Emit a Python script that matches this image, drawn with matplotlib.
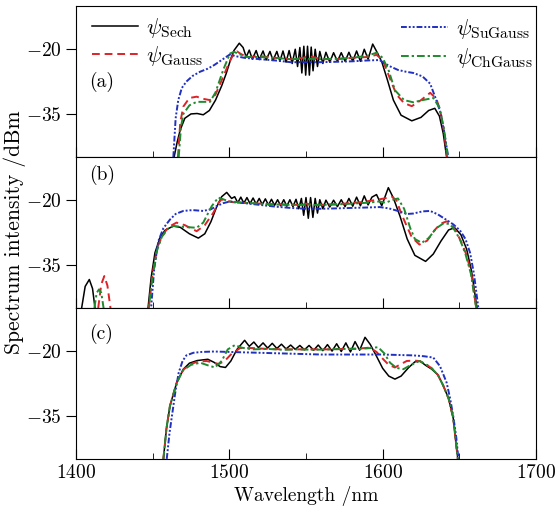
import numpy as np
import matplotlib.pyplot as plt
from matplotlib.ticker import MultipleLocator

plt.rcParams['font.family'] = 'serif'
plt.rcParams['font.serif'] = ['cmr10']
plt.rcParams['mathtext.fontset'] = 'cm'
plt.rcParams['axes.formatter.use_mathtext'] = True

# ---- panel (a) ----
a_sech_x = [1464, 1466, 1468, 1471, 1475, 1479, 1483, 1487, 1491, 1495, 1498, 1501, 1503, 1506.5, 1509, 1511,
            1513, 1515, 1517.5, 1519.5, 1522, 1524, 1526.5, 1528.5, 1531, 1533, 1535, 1537, 1539, 1541, 1543,
            1544.5, 1546, 1547.3, 1548.6, 1549.8, 1551, 1552.2, 1553.4, 1554.6, 1556, 1557.5, 1559, 1561, 1563,
            1565.5, 1568, 1570.5, 1573, 1575.5, 1578, 1580.5, 1583, 1585.5, 1588, 1590.5, 1593.5, 1596.5, 1599.5,
            1603, 1607, 1612, 1619, 1625, 1630, 1634, 1637, 1639.5, 1641.7]
a_sech_y = [-45, -41.5, -38.7, -36, -35, -34.9, -35.2, -34.2, -31.8, -28.5, -25.6, -22.2, -20.3, -18.6, -19.6, -21.8,
            -20.2, -22.3, -20.3, -22.4, -20.4, -22.5, -20.5, -22.6, -20.5, -22.8, -20.4, -23, -20.3, -23.3, -20,
            -24, -19.6, -25.5, -19.3, -26, -19.3, -26, -19.5, -25, -20, -24, -20.5, -23.3, -20.7,
            -23, -20.8, -22.8, -20.8, -22.8, -20.7, -22.8, -20.4, -22.8, -20, -22.3, -18.8, -20.8, -23,
            -27, -31.8, -35.3, -36.6, -35.8, -34.2, -33.7, -35.5, -39.5, -45]

a_gauss_x = [1466.5, 1468, 1470, 1474, 1478.7, 1483, 1487.4, 1491, 1496, 1500, 1503, 1505, 1508, 1512, 1520, 1530,
             1540, 1548, 1552, 1560, 1570, 1580, 1590, 1596, 1600, 1605, 1609, 1614, 1619, 1625, 1631, 1635,
             1637.4, 1640, 1642]
a_gauss_y = [-45, -37, -33.3, -31.3, -31, -31.5, -31.8, -30.5, -26.4, -23, -21, -20.5, -21.2, -21.8, -21.6, -22,
             -22.3, -22, -21.6, -22.3, -22.3, -22, -21.8, -21.3, -22.5, -27, -30.5, -32.5, -33.2, -31.8, -30.1, -31.5,
             -34, -39, -45]

a_su_x = [1463.5, 1465, 1466.7, 1469, 1472, 1476, 1481, 1486, 1490, 1495, 1500.4, 1504, 1510, 1520, 1530, 1540,
          1550, 1560, 1570, 1580, 1590, 1598, 1601, 1605, 1610, 1615, 1620, 1626, 1631, 1635, 1638, 1640, 1642.8]
a_su_y = [-45, -36, -31.8, -29, -27.5, -26.2, -25.2, -24.5, -23.7, -22.5, -21.2, -21.6, -22, -22.3, -22.6, -23,
          -23, -23, -22.9, -22.8, -22.6, -22.5, -23.2, -24, -24.8, -25.2, -25.5, -26.3, -28, -31.8, -35, -39, -45]

a_ch_x = [1467, 1468.5, 1470, 1474, 1478.7, 1483, 1487.4, 1491, 1496, 1500.4, 1503, 1507, 1512, 1520, 1530, 1540,
          1550, 1560, 1570, 1580, 1590, 1596, 1600, 1604, 1608, 1614, 1620, 1626, 1633, 1637, 1640, 1642.5]
a_ch_y = [-45, -38, -35, -33, -32.2, -32.2, -32.2, -30, -24.8, -21, -20.6, -21.2, -21.8, -21.8, -22, -22.3,
          -22.2, -22.3, -22.2, -22, -21.5, -20.8, -22, -25, -29.5, -31.8, -32.3, -31.8, -31.3, -33.5, -38.5, -45]

# ---- panel (b) ----
b_sech_x = [1403.7, 1406, 1408.7, 1410.8, 1412.4, 1414, 1445, 1447, 1449, 1451.5, 1454.8, 1458, 1463.5, 1468, 1474,
            1479.8, 1484, 1488, 1491.7, 1495, 1498.3, 1501.5,
            1503.5, 1505.5, 1507.5, 1509.5, 1511.5, 1513.5, 1515.5, 1517.5, 1519.5, 1521.5, 1523.5, 1525.5, 1527.5,
            1529.5, 1531.5, 1533.5, 1535.5, 1537.5, 1539.5, 1541.5, 1543.5, 1545.3, 1547, 1548.5, 1550, 1551.5,
            1553, 1554.5, 1556, 1557.5, 1559, 1561, 1563, 1565.5, 1568, 1570.5, 1573, 1575.5, 1578, 1580.5, 1583,
            1585.5, 1588, 1590.5, 1593, 1596, 1599.4, 1603.7, 1607, 1611.3, 1616, 1621, 1628, 1633, 1638, 1643,
            1647, 1651, 1654.8, 1658, 1661.5]
b_sech_y = [-45, -40, -38.4, -40.5, -45, -50, -50, -45, -38, -32.2, -28.7, -27, -26, -26.3, -27.8,
            -28.8, -27.8, -25, -21.6, -19.2, -18.2, -19.6,
            -19.2, -20.6, -19.3, -20.7, -19.4, -20.8, -19.5, -20.9, -19.6, -21, -19.7, -21.1, -19.8,
            -21.2, -19.9, -21.3, -19.9, -21.4, -19.9, -21.5, -19.8, -22, -19.6, -23.5, -19.4, -24.2,
            -19.4, -24, -19.6, -23, -19.9, -22, -20, -21.6, -20, -21.5, -19.9, -21.5, -19.6, -21.4, -19.3,
            -21.3, -19, -21.1, -19.3, -18.7, -21.3, -17.1, -19.5, -23.7, -29, -32.8, -34.2, -32.5, -29.5, -26.9,
            -26.4, -28, -31.4, -36.5, -45]

b_gauss_x = [1414.5, 1416.5, 1418.5, 1420.5, 1422.5, 1424, 1444, 1447.5, 1450, 1453, 1456, 1460, 1465.6, 1471,
             1478.7, 1484, 1489.6, 1493, 1495, 1498, 1505, 1515, 1525, 1535, 1545, 1550, 1555, 1565, 1575, 1585,
             1595, 1601, 1606, 1609, 1612, 1615.7, 1619, 1624, 1629, 1634, 1638, 1642, 1645, 1648, 1651.5, 1655,
             1658, 1661]
b_gauss_y = [-45, -39.5, -37.6, -39.8, -45, -50, -50, -45, -37, -31, -28.5, -26.3, -25.2, -25.8,
             -27.2, -25.8, -22.9, -20.6, -19.8, -20.2, -20.6, -20.7, -20.9, -21, -21.1, -20.8, -21.1, -21, -20.8,
             -20.5, -20, -19.6, -19.2, -20, -23, -26, -28.6, -30.3, -29.4, -26.9, -25.4, -24.9, -25.6, -27.3,
             -29.9, -33, -37.5, -45]

b_su_x = [1447.5, 1449, 1451, 1453.7, 1457, 1461.3, 1465, 1470, 1476, 1483, 1488, 1491.7, 1496, 1500.4, 1510, 1520,
          1530, 1540, 1550, 1560, 1570, 1580, 1590, 1598, 1604, 1609, 1616, 1620, 1626, 1631, 1636, 1641.7, 1646,
          1650.4, 1654, 1657, 1659.5, 1662.4]
b_su_y = [-50, -45, -36, -29.5, -26.5, -24.5, -23.2, -22.5, -22.3, -22.5, -22.1, -21.4, -20.7, -20.3, -20.7, -21.1,
          -21.5, -21.8, -22, -22, -21.9, -21.8, -21.7, -21.6, -21.9, -22.4, -23.2, -23.1, -22.6, -22.5, -23.3, -24.6,
          -25.6, -27, -29, -32.2, -37, -45]

b_ch_x = [1412, 1413.5, 1415, 1416.5, 1418, 1420, 1445, 1447.5, 1450, 1453, 1456, 1460, 1463.5, 1470, 1478.7,
          1483, 1488.5, 1492.8, 1496, 1500, 1510, 1520, 1530, 1540, 1550, 1560, 1570, 1580, 1590, 1598, 1602,
          1606, 1610, 1614, 1618, 1621, 1625.5, 1630, 1635, 1640, 1644, 1647, 1650.4, 1654, 1657.5, 1661]
b_ch_y = [-45, -41.5, -40.7, -41.5, -45, -50, -50, -45, -37.5, -31.5, -28.5, -26.6, -26, -26.2, -26.4,
          -25.2, -21.4, -19.4, -19.8, -20.3, -20.6, -20.8, -21, -21.1, -21.1, -21.1, -21, -20.8, -20.6, -20.3, -20.6,
          -20, -19.6, -22, -26.5, -29, -29.9, -28.8, -26.5, -25.3, -25.6, -27, -29.1, -32.5, -37, -45]

# ---- panel (c) ----
c_sech_x = [1457, 1459, 1461.3, 1465.7, 1470, 1474, 1479, 1486, 1490, 1494, 1497.5, 1501, 1505, 1510, 1513,
            1516, 1519, 1522, 1525, 1528, 1531, 1534, 1537, 1540, 1543, 1546, 1549, 1552, 1555, 1558, 1561, 1564,
            1567, 1570, 1573, 1576, 1579, 1582, 1585, 1588.5, 1592, 1596, 1600, 1604, 1608, 1612, 1617, 1621,
            1624.3, 1628, 1632, 1636, 1639.5, 1643, 1646, 1649]
c_sech_y = [-45, -38, -32.7, -27.3, -24.2, -22.8, -22.2, -21.9, -22.6, -23.6, -23.8, -22.3, -19.6, -17.5, -18.9,
            -17.9, -19.2, -18.1, -19.3, -18.2, -19.4, -18.4, -19.5, -18.6, -19.6, -18.7, -19.7, -18.7, -19.8, -18.6,
            -19.9, -18.5, -20, -18.3, -20.1, -18.1, -20.2, -17.8, -19.8, -16.8, -18.5, -21.2, -24, -25.8, -26.5,
            -25.8, -23.8, -22.5, -22.3, -23.3, -24.2, -25.5, -28, -31, -35.5, -45]

c_gauss_x = [1457, 1459, 1461.3, 1465.7, 1470, 1475, 1479, 1485, 1489, 1493, 1497, 1501, 1507, 1515, 1525, 1535,
             1545, 1555, 1565, 1575, 1585, 1591.7, 1596, 1600.4, 1604, 1608, 1612, 1615.7, 1620, 1624, 1628, 1632,
             1636, 1639.5, 1643, 1646, 1649]
c_gauss_y = [-45, -38, -32.7, -27.3, -24.3, -23, -22.5, -22.3, -22.6, -23, -22.3, -20.8, -19.3, -19.3, -19.5,
             -19.6, -19.6, -19.6, -19.6, -19.5, -19.4, -19.2, -20.2, -21.9, -23.2, -23.8, -23, -22.3, -22.2, -22.3,
             -23, -24, -25.5, -28, -31, -35.5, -45]

c_su_x = [1459.2, 1461, 1463, 1465, 1467, 1469.5, 1472, 1476.5, 1482, 1490, 1500, 1510, 1520, 1530, 1540, 1550,
          1560, 1570, 1580, 1590, 1600, 1610, 1620, 1627, 1633, 1637.4, 1641.7, 1644, 1646, 1648, 1649.4]
c_su_y = [-45, -39, -34, -29, -25, -22.3, -21, -20.4, -20.2, -20.1, -20.2, -20.3, -20.4, -20.5, -20.6, -20.7,
          -20.8, -20.8, -20.8, -20.8, -20.8, -20.9, -21, -21.2, -21.5, -23.5, -27.3, -31, -35, -40, -45]

c_ch_x = [1457, 1459, 1461.3, 1465.7, 1470, 1475, 1481, 1486, 1490.6, 1495, 1499, 1503.7, 1508, 1515, 1525, 1535,
          1545, 1555, 1565, 1575, 1585, 1592, 1597, 1601, 1604.8, 1609, 1613.5, 1618, 1624, 1628, 1632, 1636,
          1639.5, 1643, 1646, 1649]
c_ch_y = [-45, -38, -32.7, -27.3, -24.4, -23.2, -22.7, -23.3, -23.8, -22.3, -19.6, -18.6, -19.2, -19.6, -19.5,
          -19.7, -19.6, -19.7, -19.6, -19.5, -19.5, -19.3, -19.1, -20.5, -22.7, -23.9, -24.2, -23.3, -22.3, -23,
          -24, -25.5, -28, -31, -35.5, -45]

panels = [
    ('(a)', 0.50, (a_sech_x, a_sech_y), (a_gauss_x, a_gauss_y), (a_su_x, a_su_y), (a_ch_x, a_ch_y)),
    ('(b)', 0.88, (b_sech_x, b_sech_y), (b_gauss_x, b_gauss_y), (b_su_x, b_su_y), (b_ch_x, b_ch_y)),
    ('(c)', 0.83, (c_sech_x, c_sech_y), (c_gauss_x, c_gauss_y), (c_su_x, c_su_y), (c_ch_x, c_ch_y)),
]

c_sech = 'black'
c_gauss = '#dd2228'
c_su = '#2030c0'
c_ch = '#1f8a2e'

fig, axes = plt.subplots(3, 1, sharex=True, figsize=(5.57, 5.11), dpi=100)
fig.subplots_adjust(left=0.1364, right=0.9623, top=0.988, bottom=0.102, hspace=0)

for ax, (tag, tag_y, s, g, su, ch) in zip(axes, panels):
    l_sech, = ax.plot(s[0], s[1], color=c_sech, lw=1.1, label=r'$\psi_{\rm Sech}$')
    l_gauss, = ax.plot(g[0], g[1], color=c_gauss, lw=1.4, ls=(0, (4, 2.5)), label=r'$\psi_{\rm Gauss}$')
    l_su, = ax.plot(su[0], su[1], color=c_su, lw=1.4, ls=(0, (3, 1, 1, 1, 1, 1)), label=r'$\psi_{\rm SuGauss}$')
    l_ch, = ax.plot(ch[0], ch[1], color=c_ch, lw=1.4, ls=(0, (4, 1.5, 1.2, 1.5)), label=r'$\psi_{\rm ChGauss}$')
    ax.set_xlim(1400, 1700)
    ax.set_ylim(-45, -10)
    ax.set_yticks([-20, -35])
    ax.xaxis.set_major_locator(MultipleLocator(100))
    ax.xaxis.set_minor_locator(MultipleLocator(50))
    ax.tick_params(axis='x', which='major', direction='in', length=7, labelsize=14)
    ax.tick_params(axis='x', which='minor', direction='in', length=4)
    ax.tick_params(axis='y', direction='out', length=7, labelsize=14)
    ax.text(0.028, tag_y, tag, transform=ax.transAxes, fontsize=14, va='center', ha='left')
    for sp in ax.spines.values():
        sp.set_linewidth(0.8)
    if tag == '(a)':
        leg1 = ax.legend([l_sech, l_gauss], [l_sech.get_label(), l_gauss.get_label()],
                         loc='upper left', bbox_to_anchor=(0.0, 1.04), frameon=False, fontsize=16,
                         handlelength=2.1, handletextpad=0.35, labelspacing=0.2, borderpad=0.2)
        ax.add_artist(leg1)
        ax.legend([l_su, l_ch], [l_su.get_label(), l_ch.get_label()],
                  loc='upper left', bbox_to_anchor=(0.673, 1.03), frameon=False, fontsize=16,
                  handlelength=2.1, handletextpad=0.35, labelspacing=0.2, borderpad=0.2)

axes[-1].set_xlabel('Wavelength /nm', fontsize=14, labelpad=3)
fig.text(0.026, 0.545, 'Spectrum intensity /dBm', rotation=90, fontsize=15.5, va='center', ha='center')

plt.savefig('out.png', dpi=100)
